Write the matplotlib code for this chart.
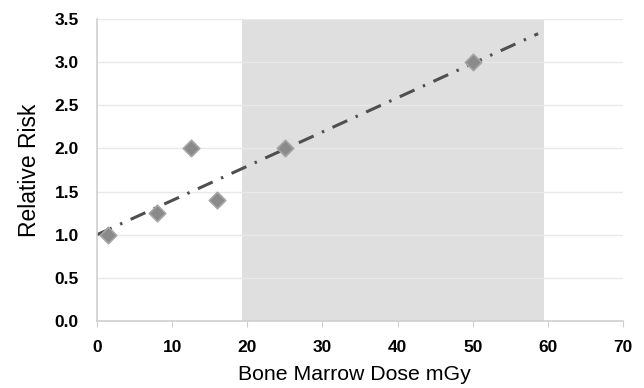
import matplotlib
matplotlib.use("Agg")
import matplotlib.pyplot as plt

dose = [1.5, 8, 12.5, 16, 25, 50]
risk = [1.0, 1.25, 2.0, 1.4, 2.0, 3.0]
trend_x = [0, 58.7]
trend_y = [1.0, 3.33]
shade_x = [19.3, 59.5]
xticks = [0, 10, 20, 30, 40, 50, 60, 70]
yticks = [0.0, 0.5, 1.0, 1.5, 2.0, 2.5, 3.0, 3.5]

plt.rcParams['font.family'] = ['Liberation Sans', 'DejaVu Sans']
fig = plt.figure(figsize=(6.44, 3.88), dpi=100)
ax = fig.add_axes([97/644, 1-321/388, (623-97)/644, (321-19)/388])

ax.axvspan(shade_x[0], shade_x[1], color='#dfdfdf', zorder=0, lw=0)
for y in yticks[1:]:
    ax.axhline(y, color='#e9e9e9', lw=1, zorder=1)
ax.plot(trend_x, trend_y, color='#4f4f4f', lw=2.2, ls=(0, (5.3, 3, 0.8, 3)), zorder=2)
ax.scatter(dose, risk, marker='D', s=70, color='#8a8a8a', edgecolor='#a5a5a5', lw=1.2, zorder=3)

ax.set_xlim(0, 70)
ax.set_ylim(0, 3.5)
ax.set_xticks(xticks)
ax.set_yticks(yticks)
ax.set_yticklabels([f"{v:.1f}" for v in yticks], fontweight='bold')
ax.set_xticklabels([str(v) for v in xticks], fontweight='bold')
for s in ['top', 'right']:
    ax.spines[s].set_visible(False)
for s in ['left', 'bottom']:
    ax.spines[s].set_color('#cfcfcf')
    ax.spines[s].set_linewidth(1.2)
ax.tick_params(axis='x', length=4, color='#cfcfcf', labelsize=12.5, pad=10)
ax.tick_params(axis='y', length=0, labelsize=12.5, pad=13)
ax.set_xlabel('Bone Marrow Dose mGy', fontsize=15.3)
ax.set_ylabel('Relative Risk', fontsize=16.5, labelpad=10)
ax.xaxis.set_label_coords((354 - 97) / 526, -0.145)
fig.savefig('out.png', dpi=100)
